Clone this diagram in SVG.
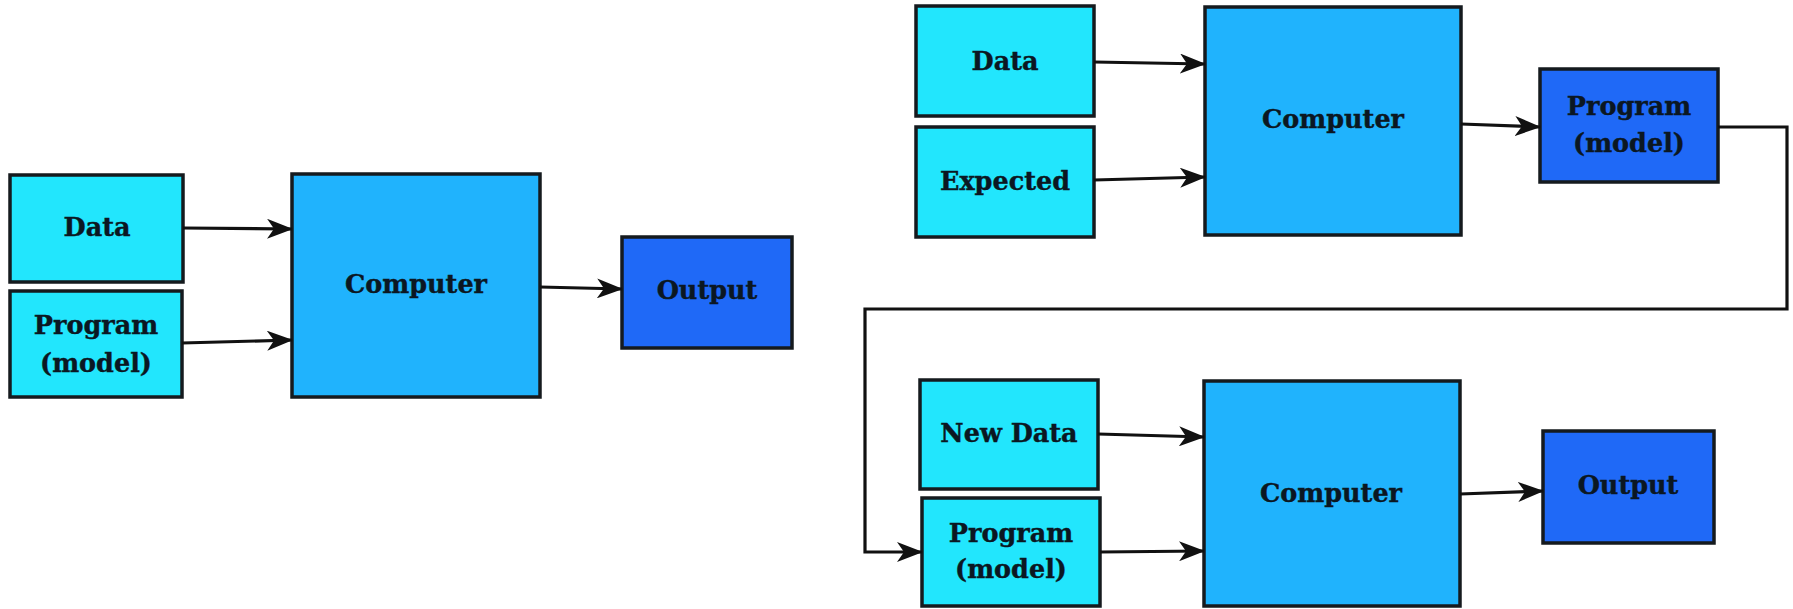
<svg xmlns="http://www.w3.org/2000/svg" width="1793" height="609" viewBox="0 0 1793 609">
  <style>
    .box { stroke: #151a1e; stroke-width: 3.5; }
    .in { fill: #22e6fd; }
    .cpu { fill: #20b3fd; }
    .out { fill: #1f69f7; }
    .lbl { font-family: "DejaVu Serif", "Liberation Serif", serif; font-weight: bold; font-size: 25.5px; fill: #0b1722; stroke: #0b1722; stroke-width: 0.4; text-anchor: middle; dominant-baseline: central; }
    .wire { fill: none; stroke: #111; stroke-width: 3.2; }
  </style>
  <defs>
    <marker id="arrow" viewBox="0 0 26 20" refX="25" refY="10" markerWidth="26" markerHeight="20" markerUnits="userSpaceOnUse" orient="auto">
      <path d="M0,0 L26,10 L0,20 L7,10 Z" fill="#111"/>
    </marker>
  </defs>

  <rect width="1793" height="609" fill="#ffffff"/>

  <!-- left: classic programming -->
  <g id="l-data"><rect class="box in" x="10" y="175" width="173" height="107"/><text class="lbl" x="97" y="227">Data</text></g>
  <g id="l-program"><rect class="box in" x="10" y="291" width="172" height="106"/><text class="lbl" x="96" y="325">Program</text><text class="lbl" x="96" y="363">(model)</text></g>
  <g id="l-computer"><rect class="box cpu" x="292" y="174" width="248" height="223"/><text class="lbl" x="416" y="284">Computer</text></g>
  <g id="l-output"><rect class="box out" x="622" y="237" width="170" height="111"/><text class="lbl" x="707" y="290">Output</text></g>

  <!-- right top: training -->
  <g id="t-data"><rect class="box in" x="916" y="6" width="178" height="110"/><text class="lbl" x="1005" y="61">Data</text></g>
  <g id="t-expected"><rect class="box in" x="916" y="127" width="178" height="110"/><text class="lbl" x="1005" y="181">Expected</text></g>
  <g id="t-computer"><rect class="box cpu" x="1205" y="7" width="256" height="228"/><text class="lbl" x="1333" y="119">Computer</text></g>
  <g id="t-program"><rect class="box out" x="1540" y="69" width="178" height="113"/><text class="lbl" x="1629" y="106">Program</text><text class="lbl" x="1629" y="143">(model)</text></g>

  <!-- right bottom: inference -->
  <g id="b-newdata"><rect class="box in" x="920" y="380" width="178" height="109"/><text class="lbl" x="1009" y="433">New Data</text></g>
  <g id="b-program"><rect class="box in" x="922" y="498" width="178" height="108"/><text class="lbl" x="1011" y="533">Program</text><text class="lbl" x="1011" y="569">(model)</text></g>
  <g id="b-computer"><rect class="box cpu" x="1204" y="381" width="256" height="225"/><text class="lbl" x="1331" y="493">Computer</text></g>
  <g id="b-output"><rect class="box out" x="1543" y="431" width="171" height="112"/><text class="lbl" x="1628" y="485">Output</text></g>

  <g id="connectors">
    <path class="wire" d="M183,228 L292,229" marker-end="url(#arrow)"/>
    <path class="wire" d="M182,343 L292,340" marker-end="url(#arrow)"/>
    <path class="wire" d="M540,287 L622,289" marker-end="url(#arrow)"/>

    <path class="wire" d="M1094,62 L1205,64" marker-end="url(#arrow)"/>
    <path class="wire" d="M1094,180 L1205,177" marker-end="url(#arrow)"/>
    <path class="wire" d="M1461,124 L1540,127" marker-end="url(#arrow)"/>

    <path class="wire" d="M1718,127 L1787,127 L1787,309 L865,309 L865,552 L922,552" marker-end="url(#arrow)"/>

    <path class="wire" d="M1098,434 L1204,437" marker-end="url(#arrow)"/>
    <path class="wire" d="M1100,552 L1204,551" marker-end="url(#arrow)"/>
    <path class="wire" d="M1460,494 L1543,491" marker-end="url(#arrow)"/>
  </g>
</svg>
